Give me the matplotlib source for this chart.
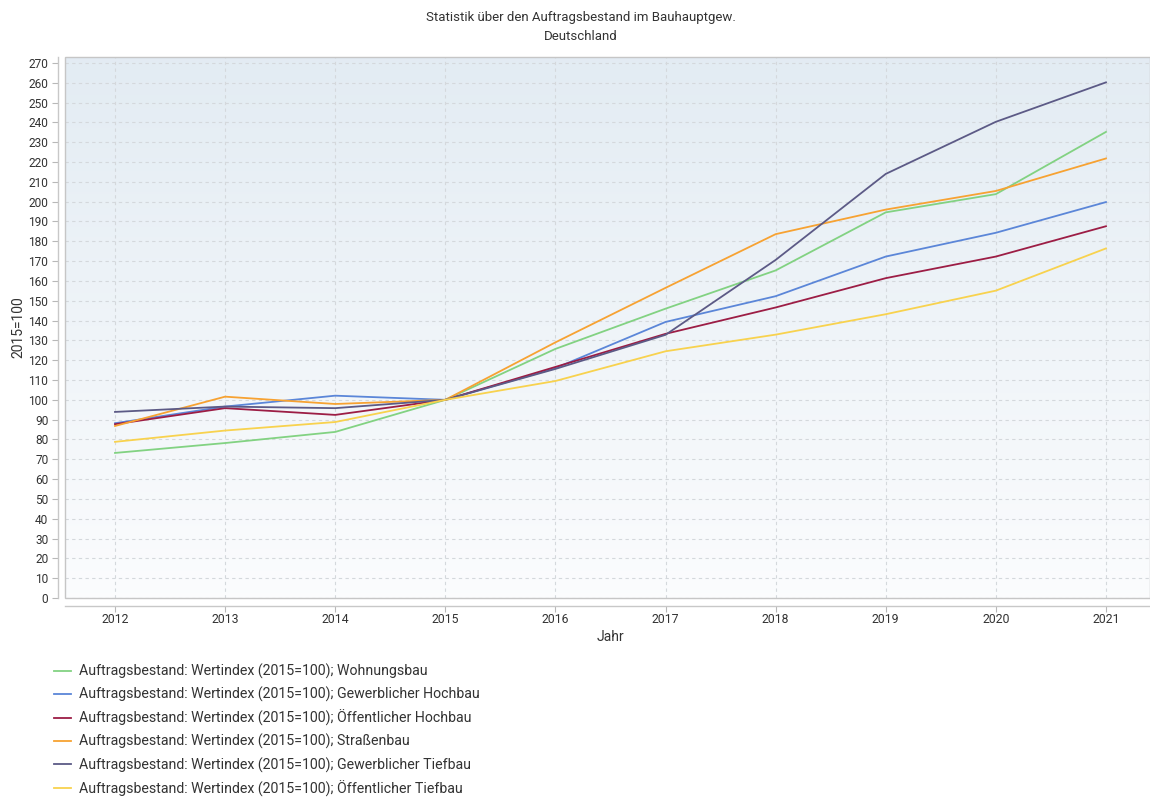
import numpy as np
import matplotlib.pyplot as plt
from matplotlib.patches import Rectangle

plt.rcParams['font.family'] = ['Roboto', 'DejaVu Sans']

years = [2012, 2013, 2014, 2015, 2016, 2017, 2018, 2019, 2020, 2021]

wohnungsbau = [73.2, 78.2, 83.8, 100, 125.7, 146.0, 165.3, 194.6, 203.8, 235.2]
gewerbl_hochbau = [88.2, 96.6, 102.1, 100, 116.0, 139.3, 152.3, 172.3, 184.3, 199.8]
oeffentl_hochbau = [87.7, 95.8, 92.4, 100, 116.6, 133.3, 146.6, 161.4, 172.3, 187.6]
strassenbau = [86.8, 101.6, 97.9, 100, 129.0, 156.5, 183.6, 196.0, 205.4, 221.8]
gewerbl_tiefbau = [93.9, 96.6, 95.8, 100, 115.6, 132.8, 170.6, 214.0, 240.3, 260.2]
oeffentl_tiefbau = [78.8, 84.5, 88.8, 100, 109.5, 124.5, 132.9, 143.2, 155.1, 176.4]

prefix = 'Auftragsbestand: Wertindex (2015=100); '
series = [
    ('Wohnungsbau', wohnungsbau, '#82d282'),
    ('Gewerblicher Hochbau', gewerbl_hochbau, '#5b86d8'),
    ('Öffentlicher Hochbau', oeffentl_hochbau, '#9c1d45'),
    ('Straßenbau', strassenbau, '#f7a232'),
    ('Gewerblicher Tiefbau', gewerbl_tiefbau, '#5c5a86'),
    ('Öffentlicher Tiefbau', oeffentl_tiefbau, '#f8d24e'),
]

fig = plt.figure(figsize=(11.5, 7.98), dpi=100)
ax = fig.add_axes([65 / 1150, 1 - 598 / 798, 1 - 65 / 1150, (598 - 57) / 798])

# gradient background
grad = np.linspace(0, 1, 256).reshape(-1, 1)
top = np.array([0.890, 0.925, 0.953])
bot = np.array([0.985, 0.989, 0.995])
img = top * (1 - grad[..., None]) + bot * grad[..., None]
img = img.reshape(256, 1, 3)
ax.imshow(img, extent=[0, 1, 0, 1], transform=ax.transAxes, aspect='auto', zorder=0)

for name, vals, col in series:
    ax.plot(years, vals, color=col, lw=1.3, label=prefix + name, zorder=3)

ax.set_xlim(2011.546, 2021.40)
ax.set_ylim(0, 273)
ax.set_xticks(years)
ax.set_yticks(np.arange(0, 271, 10))
ax.grid(True, color='#d4d8dc', ls=(0, (3, 3)), lw=0.8, zorder=1)
ax.set_axisbelow(True)

for s in ['top', 'right']:
    ax.spines[s].set_visible(False)
ax.spines['left'].set_position(('outward', 5))
ax.spines['bottom'].set_position(('outward', 6))
for s in ['left', 'bottom']:
    ax.spines[s].set_color('#c8c8c8')
    ax.spines[s].set_linewidth(1.0)
ax.add_patch(Rectangle((0, 0), 1, 1, transform=ax.transAxes, fill=False,
                       ec='#c6c6c6', lw=1.0, clip_on=False, zorder=4))

ax.tick_params(axis='both', colors='#b8b8b8', labelcolor='#333333', length=4)
ax.tick_params(axis='x', labelsize=8.8, pad=1)
ax.tick_params(axis='y', labelsize=8.6, pad=3)

ax.set_xlabel('Jahr', fontsize=10, color='#333333')
ax.set_ylabel('2015=100', fontsize=10, color='#333333')
ax.xaxis.set_label_coords(0.503, -0.072)
ax.yaxis.set_label_coords(-0.043, 0.5)
ax.xaxis.label.set_va('center')
ax.yaxis.label.set_va('center')

fig.text(0.505, 1 - 17 / 798, 'Statistik über den Auftragsbestand im Bauhauptgew.',
         ha='center', va='center', fontsize=9.5, color='#333333')
fig.text(0.505, 1 - 36 / 798, 'Deutschland', ha='center', va='center',
         fontsize=9.5, color='#333333')

fig.legend(loc='upper left', bbox_to_anchor=(48 / 1150, 1 - 658 / 798), frameon=False,
           fontsize=10.2, handlelength=1.25, handletextpad=0.55, labelspacing=0.55,
           labelcolor='#333333', borderaxespad=0)

fig.savefig('out.png', dpi=100)
